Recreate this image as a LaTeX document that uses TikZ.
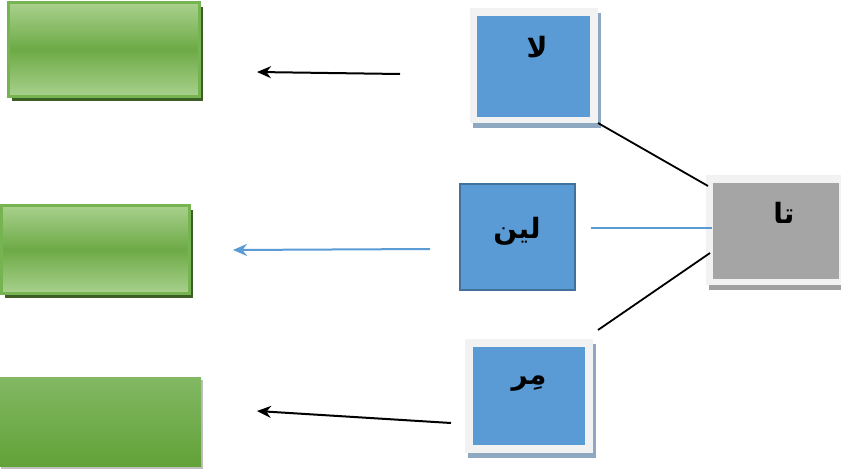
\documentclass[tikz,border=0pt]{standalone}
\usepackage{fontspec}
\newfontfamily\arabicfont[Script=Arabic]{DejaVu Sans}
\TeXXeTstate=1
\usetikzlibrary{shadows,arrows.meta}
\definecolor{gLight}{HTML}{A9D18E}
\definecolor{gMid}{HTML}{6DAA45}
\definecolor{gBorder}{HTML}{76B451}
\definecolor{gShadow}{HTML}{3D5F26}
\definecolor{bFill}{HTML}{5B9BD5}
\definecolor{bBorder}{HTML}{41719C}
\definecolor{frameW}{HTML}{F2F2F2}
\definecolor{bShadow}{HTML}{8FA8C2}
\definecolor{grFill}{HTML}{A5A5A5}
\definecolor{grShadow}{HTML}{A0A0A0}
\definecolor{g3Top}{HTML}{82B863}
\definecolor{g3Bot}{HTML}{62A238}
\tikzset{
  x=1pt,y=-1pt,
  greenbox/.style={rectangle,inner sep=0,draw=gBorder,line width=2.2pt,
    top color=gLight,bottom color=gLight,middle color=gMid,
    drop shadow={shadow xshift=3pt,shadow yshift=-4pt,fill=gShadow,opacity=1}},
  greenflat/.style={rectangle,inner sep=0,top color=g3Top,bottom color=g3Bot,
    drop shadow={shadow xshift=2pt,shadow yshift=-3pt,fill=black,opacity=0.25}},
  frame/.style={rectangle,inner sep=0,fill=frameW,
    drop shadow={shadow xshift=3pt,shadow yshift=-5pt,fill=#1,opacity=1}},
  inner/.style={rectangle,inner sep=0,fill=#1},
  plainblue/.style={rectangle,inner sep=0,fill=bFill,draw=bBorder,line width=2.2pt},
  lab/.style={inner sep=1pt,font=\arabicfont\bfseries\fontsize{28}{32}\selectfont},
  blackarrow/.style={draw=black,line width=2pt,-{Stealth[length=14pt,width=12pt]}},
  bluearrow/.style={draw=bFill,line width=2pt,-{Stealth[length=14pt,width=12pt]}},
  link/.style={draw=black,line width=1.8pt},
  bluelink/.style={draw=bFill,line width=1.2pt}
}
\begin{document}
\begin{tikzpicture}
\useasboundingbox (0,0) rectangle (841,471);
\fill[white] (0,0) rectangle (841,471);
% green boxes
\node[greenbox,minimum width=191pt,minimum height=94pt] (g1) at (104,49.5) {};
\node[greenbox,minimum width=188pt,minimum height=88pt] (g2) at (95.5,249.5) {};
\node[greenflat,minimum width=202pt,minimum height=89pt] (g3) at (100,421.5) {};
% blue box 1
\node[frame=bShadow,minimum width=128pt,minimum height=115pt] (f1) at (534,65.5) {};
\node[inner=bFill,minimum width=113pt,minimum height=101pt] (b1) at (533.5,66.5) {};
\node[lab] (t1) at (537,47) {\beginR لا\endR};
% blue box 2
\node[plainblue,minimum width=115pt,minimum height=106pt] (b2) at (517.5,237) {};
\node[lab] (t2) at (517,231) {\beginR لين\endR};
% blue box 3
\node[frame=bShadow,minimum width=128pt,minimum height=114pt] (f3) at (529,396) {};
\node[inner=bFill,minimum width=112pt,minimum height=98pt] (b3) at (529,396) {};
\node[lab] (t3) at (529,384) {\beginR مِر\endR};
% gray box
\node[frame=grShadow,minimum width=140pt,minimum height=110pt] (f4) at (776,230) {};
\node[inner=grFill,minimum width=126pt,minimum height=96pt] (b4) at (776,231) {};
\node[lab] (t4) at (784,213) {\beginR تا\endR};
% connectors
\coordinate (c1a) at (598,123);
\coordinate (c1b) at (708,186);
\coordinate (c2a) at (591,228);
\coordinate (c2b) at (712,228);
\coordinate (c3a) at (598,330);
\coordinate (c3b) at (710,253);
\draw[link] (c1a) -- (c1b);
\draw[bluelink] (c2a) -- (c2b);
\draw[link] (c3a) -- (c3b);
% arrows
\coordinate (a1s) at (400,74);
\coordinate (a1e) at (257,72);
\coordinate (a2s) at (430,249);
\coordinate (a2e) at (233,250);
\coordinate (a3s) at (451,423);
\coordinate (a3e) at (257,411);
\draw[blackarrow] (a1s) -- (a1e);
\draw[bluearrow] (a2s) -- (a2e);
\draw[blackarrow] (a3s) -- (a3e);
\end{tikzpicture}
\end{document}
